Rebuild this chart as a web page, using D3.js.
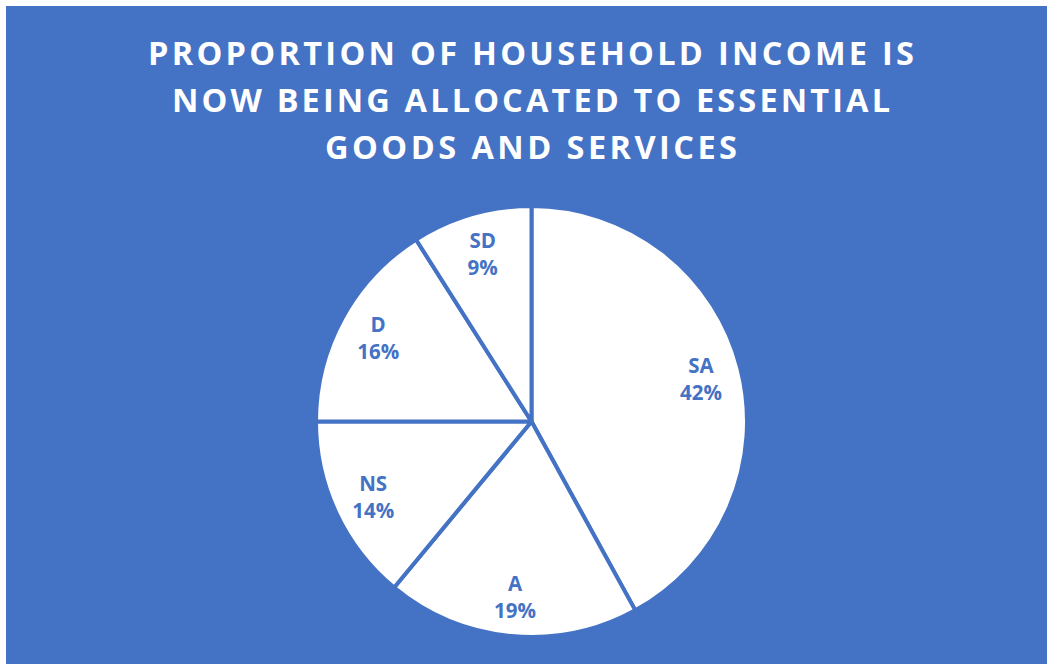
<!DOCTYPE html>
<html>
<head>
<meta charset="utf-8">
<script src="https://cdn.jsdelivr.net/npm/d3@7"></script>
<style>
  html, body { margin: 0; padding: 0; background: #ffffff; }
  svg { display: block; }
</style>
</head>
<body>
<svg id="chart" width="1048" height="664"></svg>
<script>
// Survey responses: share of respondents per agreement level
const categories = ["SA", "A", "NS", "D", "SD"];
const values = [42, 19, 14, 16, 9];
const titleLines = [
  "PROPORTION OF HOUSEHOLD INCOME IS",
  "NOW BEING ALLOCATED TO ESSENTIAL",
  "GOODS AND SERVICES"
];

const W = 1048, H = 664;
const blue = "#4472C4";
const svg = d3.select("#chart");

// Chart area background
svg.append("rect")
  .attr("x", 6).attr("y", 6)
  .attr("width", W - 7).attr("height", H - 6)
  .attr("fill", blue);

// Title
const titleWidths = [766, 718, 412];
svg.append("g")
  .selectAll("text")
  .data(titleLines)
  .join("text")
  .attr("x", 531)
  .attr("y", (d, i) => 65 + i * 47)
  .attr("text-anchor", "middle")
  .attr("textLength", (d, i) => titleWidths[i])
  .attr("lengthAdjust", "spacing")
  .attr("fill", "#ffffff")
  .attr("font-family", "'Open Sans', sans-serif")
  .attr("font-weight", 700)
  .attr("font-size", 32.5)
  .text(d => d);

// Pie
const cx = 531.5, cy = 421.5, radius = 215.5;
const data = categories.map((c, i) => ({ cat: c, value: values[i] }));

const pie = d3.pie().value(d => d.value).sort(null);
const arc = d3.arc().innerRadius(0).outerRadius(radius);
const labelArc = d3.arc().innerRadius(175).outerRadius(175);

const g = svg.append("g").attr("transform", `translate(${cx},${cy})`);
const arcs = pie(data);

g.selectAll("path")
  .data(arcs)
  .join("path")
  .attr("d", arc)
  .attr("fill", "#ffffff")
  .attr("stroke", blue)
  .attr("stroke-width", 4)
  .attr("stroke-linejoin", "round");

const labels = g.selectAll("text.lbl")
  .data(arcs)
  .join("text")
  .attr("class", "lbl")
  .attr("transform", d => `translate(${labelArc.centroid(d)})`)
  .attr("text-anchor", "middle")
  .attr("fill", blue)
  .attr("font-family", "'Open Sans', sans-serif")
  .attr("font-weight", 700)
  .attr("font-size", 20.5);

labels.append("tspan")
  .attr("x", 0).attr("y", -5)
  .text(d => d.data.cat);
labels.append("tspan")
  .attr("x", 0).attr("y", 22)
  .text(d => d.data.value + "%");
</script>
</body>
</html>
